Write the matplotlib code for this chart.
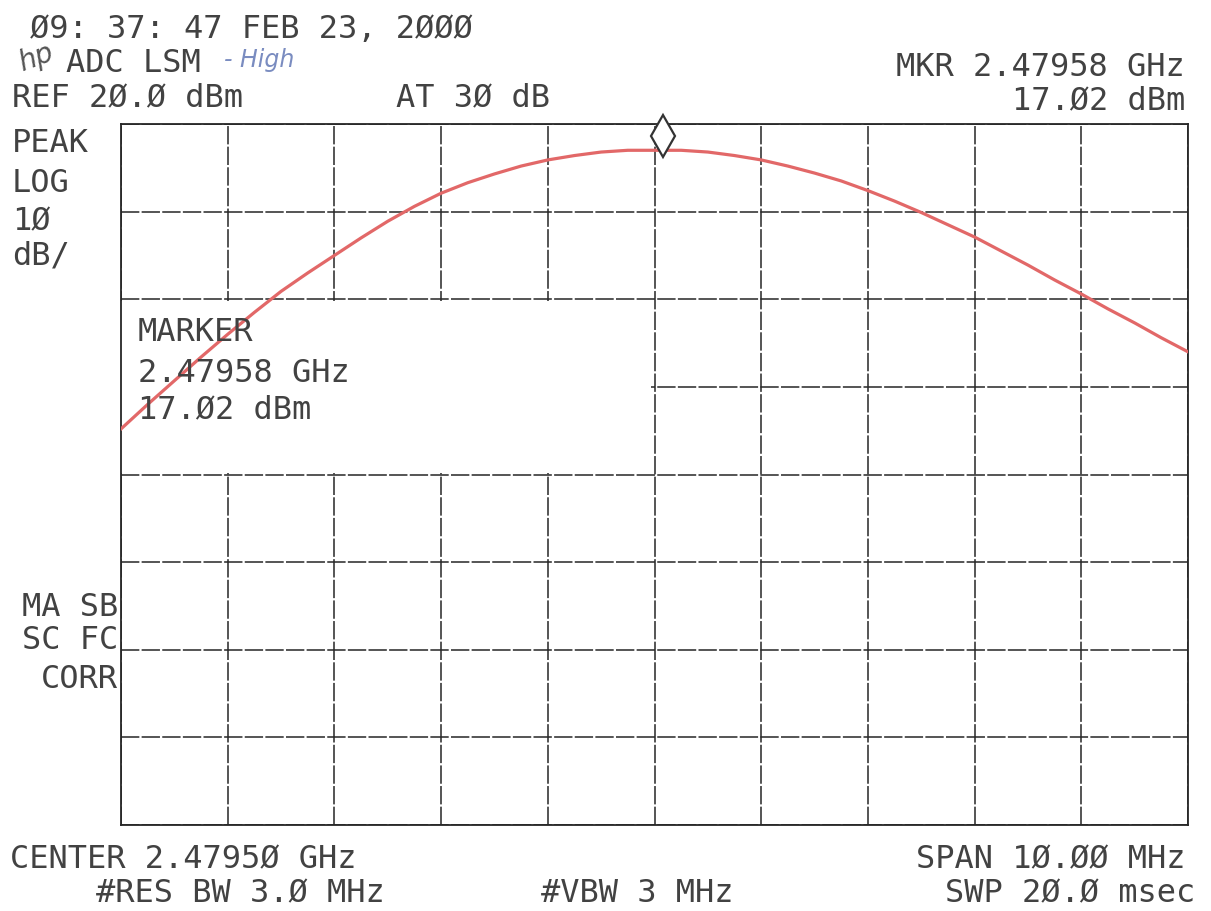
import matplotlib
matplotlib.use("Agg")
import matplotlib.pyplot as plt
from matplotlib.patches import Rectangle

# trace (GHz, dBm), every quarter division
freq_ghz = [2.47450, 2.47475, 2.47500, 2.47525, 2.47550, 2.47575, 2.47600,
            2.47625, 2.47650, 2.47675, 2.47700, 2.47725, 2.47750, 2.47775,
            2.47800, 2.47825, 2.47850, 2.47875, 2.47900, 2.47925, 2.47950,
            2.47975, 2.48000, 2.48025, 2.48050, 2.48075, 2.48100, 2.48125,
            2.48150, 2.48175, 2.48200, 2.48225, 2.48250, 2.48275, 2.48300,
            2.48325, 2.48350, 2.48375, 2.48400, 2.48425, 2.48450]
level_dbm = [-14.8, -12.0, -9.3, -6.6, -4.0, -1.5, 0.9,
             3.0, 5.0, 7.0, 8.9, 10.6, 12.1, 13.3,
             14.3, 15.2, 15.9, 16.4, 16.8, 17.0, 17.0,
             17.0, 16.8, 16.4, 15.9, 15.2, 14.4, 13.5,
             12.4, 11.2, 9.9, 8.5, 7.1, 5.5, 3.9,
             2.2, 0.6, -1.1, -2.7, -4.4, -6.0]

marker_freq = 2.47958
marker_y = 18.6          # diamond sits just above the trace top
ref_level = 20.0
db_per_div = 10
n_ydiv = 8
center = 2.4795
span = 0.010
n_xdiv = 10

fstart = center - span / 2
fstop = center + span / 2
ybot = ref_level - db_per_div * n_ydiv

TXT = "#424242"
GRID = "#262626"
plt.rcParams['font.family'] = ['DejaVu Sans Mono', 'DejaVu Sans']

fig = plt.figure(figsize=(12.11, 9.12), dpi=100)
W, H = 1211.0, 912.0
ax = fig.add_axes([121 / W, 1 - 826 / H, (1188 - 121) / W, (826 - 125) / H])

ax.set_xlim(fstart, fstop)
ax.set_ylim(ybot, ref_level)
ax.set_xticks([fstart + i * span / n_xdiv for i in range(n_xdiv + 1)])
ax.set_yticks([ybot + i * db_per_div for i in range(n_ydiv + 1)])
ax.tick_params(length=0, labelbottom=False, labelleft=False)
ax.set_axisbelow(True)
ax.grid(True, color=GRID, lw=1.1, ls=(0, (12, 1.5)))
for s in ax.spines.values():
    s.set_color(GRID)
    s.set_linewidth(1.3)

# blank marker readout box (grid is not printed underneath)
box_w = span / 2 - 0.00003
ax.add_patch(Rectangle((fstart, -19.8), box_w, 19.6, facecolor="white",
                       edgecolor="none", zorder=1))

ax.plot(freq_ghz, level_dbm, color="#e26868", lw=2.3, zorder=3)
ax.plot([marker_freq], [marker_y], marker="d", ms=21, mfc="white",
        mec="#333333", mew=1.6, zorder=4, clip_on=False)

fs = 23

def put(x, y, s, ha="left", **kw):
    kw.setdefault("color", TXT)
    kw.setdefault("fontsize", fs)
    fig.text(x / W, 1 - y / H, s, ha=ha, va="center", **kw)

put(30, 30, "Ø9: 37: 47 FEB 23, 2ØØØ")
put(14, 58, "hp", fontsize=20, style="italic", family="DejaVu Sans",
    color="#555555", rotation=20)
put(66, 63, "ADC LSM")
put(224, 60, "- High", fontsize=17, style="italic", family="DejaVu Sans",
    color="#7a8cc0", fontweight="light")
put(12, 98, "REF 2Ø.Ø dBm")
put(396, 98, "AT 3Ø dB")
put(1185, 68, "MKR 2.47958 GHz", ha="right")
put(1185, 101, "17.Ø2 dBm", ha="right")

put(12, 143, "PEAK")
put(12, 184, "LOG")
put(12, 222, "1Ø")
put(12, 256, "dB/")

put(118, 607, "MA SB", ha="right")
put(118, 641, "SC FC", ha="right")
put(118, 680, "CORR", ha="right")

put(138, 333, "MARKER")
put(138, 373, "2.47958 GHz")
put(138, 410, "17.Ø2 dBm")

put(10, 860, "CENTER 2.4795Ø GHz")
put(1185, 860, "SPAN 1Ø.ØØ MHz", ha="right")
put(96, 894, "#RES BW 3.Ø MHz")
put(541, 894, "#VBW 3 MHz")
put(1195, 894, "SWP 2Ø.Ø msec", ha="right")

fig.savefig("out.png", dpi=100)
